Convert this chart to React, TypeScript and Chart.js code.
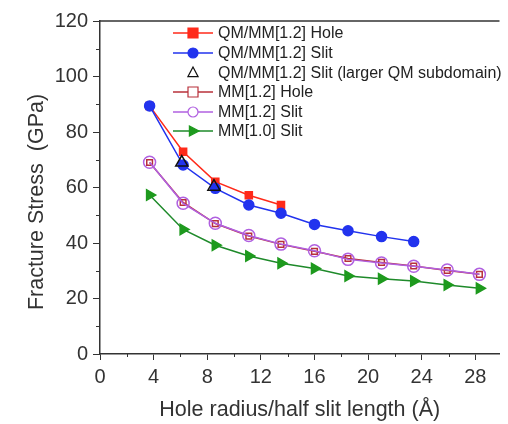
import React, { useEffect, useRef } from "react";
import { Chart, registerables } from "chart.js";
Chart.register(...registerables);

const xSlit = [3.7, 6.2, 8.6, 11.1, 13.5, 16.0, 18.5, 21.0, 23.4, 25.9, 28.3];
const qmHoleX = [3.7, 6.2, 8.6, 11.1, 13.5];
const qmHoleY = [89.4, 72.9, 62.1, 57.2, 53.7];
const qmSlitX = [3.7, 6.2, 8.6, 11.1, 13.5, 16.0, 18.5, 21.0, 23.4];
const qmSlitY = [89.4, 68.1, 59.7, 53.7, 50.7, 46.7, 44.4, 42.3, 40.5];
const qmLargeX = [6.1, 8.5];
const qmLargeY = [69.0, 60.3];
const mmHoleY = [69.0, 54.6, 47.0, 42.5, 39.5, 37.0, 34.4, 33.0, 31.7, 30.1, 28.7];
const mmSlitY = [69.1, 54.3, 47.1, 42.7, 39.6, 37.2, 34.1, 32.8, 31.6, 30.3, 28.7];
const mm10Y = [57.3, 44.9, 39.2, 35.3, 32.7, 30.8, 28.1, 27.1, 26.3, 24.9, 23.7];

const xTitle = "Hole radius/half slit length (Å)";
const yTitle = "Fracture Stress  (GPa)";

const FONT = "'Liberation Sans', Arial, sans-serif";
const AXIS = "#333";

const pts = (xs: number[], ys: number[]) => xs.map((x, i) => ({ x, y: ys[i] }));

const legendItems = [
  { label: "QM/MM[1.2] Hole", line: "#ff2a1a", style: "rect", fill: "#ff2a1a", stroke: "#ff2a1a", r: 5 },
  { label: "QM/MM[1.2] Slit", line: "#2233ee", style: "circle", fill: "#2233ee", stroke: "#2233ee", r: 5 },
  { label: "QM/MM[1.2] Slit (larger QM subdomain)", line: null, style: "triangle", fill: "rgba(0,0,0,0)", stroke: "#111", r: 6 },
  { label: "MM[1.2] Hole", line: "#b8303a", style: "rect", fill: "#fff", stroke: "#b8303a", r: 5 },
  { label: "MM[1.2] Slit", line: "#b060e0", style: "circle", fill: "#fff", stroke: "#b060e0", r: 5 },
  { label: "MM[1.0] Slit", line: "#1e8a2a", style: "triangle", fill: "#1e9a1e", stroke: "#1e9a1e", r: 6, rot: 90 },
];

const customPlugin = {
  id: "custom",
  afterDraw(chart: any) {
    const { ctx, chartArea } = chart;
    const xs = chart.scales.x;
    const ys = chart.scales.y;
    ctx.save();
    // top border
    ctx.strokeStyle = AXIS;
    ctx.lineWidth = 1.5;
    ctx.beginPath();
    ctx.moveTo(chartArea.left, chartArea.top);
    ctx.lineTo(chartArea.right, chartArea.top);
    ctx.stroke();
    // minor ticks
    ctx.lineWidth = 1;
    for (let v = 10; v < 120; v += 20) {
      const y = Math.round(ys.getPixelForValue(v)) + 0.5;
      ctx.beginPath();
      ctx.moveTo(chartArea.left - 4, y);
      ctx.lineTo(chartArea.left, y);
      ctx.stroke();
    }
    for (let v = 2; v < 30; v += 4) {
      const x = Math.round(xs.getPixelForValue(v)) + 0.5;
      ctx.beginPath();
      ctx.moveTo(x, chartArea.bottom);
      ctx.lineTo(x, chartArea.bottom + 3);
      ctx.stroke();
    }
    // y title
    ctx.fillStyle = "#333";
    ctx.font = `21.5px ${FONT}`;
    ctx.textAlign = "center";
    ctx.textBaseline = "middle";
    ctx.translate(37, 202);
    ctx.rotate(-Math.PI / 2);
    ctx.fillText(yTitle, 0, 0);
    ctx.restore();

    // legend
    ctx.save();
    const lx0 = 173, lx1 = 213, cx = 193, tx = 218;
    const rows = [33, 53, 73, 92, 112, 131];
    legendItems.forEach((it: any, i: number) => {
      const y = rows[i];
      if (it.line) {
        ctx.strokeStyle = it.line;
        ctx.lineWidth = 1.5;
        ctx.beginPath();
        ctx.moveTo(lx0, y);
        ctx.lineTo(lx1, y);
        ctx.stroke();
      }
      ctx.fillStyle = it.fill;
      ctx.strokeStyle = it.stroke;
      ctx.lineWidth = 1.2;
      ctx.beginPath();
      if (it.style === "rect") {
        ctx.rect(cx - it.r, y - it.r, it.r * 2, it.r * 2);
      } else if (it.style === "circle") {
        ctx.arc(cx, y, it.r, 0, Math.PI * 2);
      } else {
        const r = it.r;
        if (it.rot) {
          ctx.moveTo(cx + r, y);
          ctx.lineTo(cx - r * 0.6, y - r * 0.85);
          ctx.lineTo(cx - r * 0.6, y + r * 0.85);
        } else {
          ctx.moveTo(cx, y - r);
          ctx.lineTo(cx + r * 0.85, y + r * 0.6);
          ctx.lineTo(cx - r * 0.85, y + r * 0.6);
        }
        ctx.closePath();
      }
      ctx.fill();
      ctx.stroke();
      ctx.fillStyle = "#222";
      ctx.font = `16px ${FONT}`;
      ctx.textAlign = "left";
      ctx.textBaseline = "middle";
      ctx.fillText(it.label, tx, y + 1);
    });
    ctx.restore();
  },
};

export default function App() {
  const ref = useRef<HTMLCanvasElement | null>(null);
  useEffect(() => {
    if (!ref.current) return;
    const chart = new Chart(ref.current, {
      type: "line",
      data: {
        datasets: [
          {
            label: "QM/MM[1.2] Slit (larger QM subdomain)",
            data: pts(qmLargeX, qmLargeY),
            showLine: false,
            pointStyle: "triangle",
            pointRadius: 7,
            borderColor: "#111",
            backgroundColor: "rgba(0,0,0,0)",
            pointBorderWidth: 1.5,
          },
          {
            label: "QM/MM[1.2] Slit",
            data: pts(qmSlitX, qmSlitY),
            borderColor: "#2233ee",
            backgroundColor: "#2233ee",
            pointStyle: "circle",
            pointRadius: 5,
            borderWidth: 1.5,
          },
          {
            label: "QM/MM[1.2] Hole",
            data: pts(qmHoleX, qmHoleY),
            borderColor: "#ff2a1a",
            backgroundColor: "#ff2a1a",
            pointStyle: "rect",
            pointRadius: 5,
            borderWidth: 1.5,
          },
          {
            label: "MM[1.2] Slit",
            data: pts(xSlit, mmSlitY),
            borderColor: "#b060e0",
            backgroundColor: "rgba(255,255,255,0)",
            pointStyle: "circle",
            pointRadius: 6,
            borderWidth: 1.5,
          },
          {
            label: "MM[1.2] Hole",
            data: pts(xSlit, mmHoleY),
            borderColor: "#b8303a",
            backgroundColor: "rgba(255,255,255,0)",
            pointStyle: "rect",
            pointRadius: 4,
            borderWidth: 1.5,
          },
          {
            label: "MM[1.0] Slit",
            data: pts(xSlit, mm10Y),
            borderColor: "#1e8a2a",
            backgroundColor: "#1e9a1e",
            pointBorderColor: "#1e9a1e",
            pointStyle: "triangle",
            pointRotation: 90,
            pointRadius: 6,
            borderWidth: 1.5,
          },
        ],
      },
      options: {
        responsive: false,
        animation: false,
        layout: { padding: { top: 21, right: 0, left: 0, bottom: 0 } },
        plugins: { legend: { display: false }, tooltip: { enabled: false } },
        elements: { line: { tension: 0 } },
        scales: {
          x: {
            type: "linear",
            min: 0,
            max: 29.8,
            afterFit: (s: any) => { s.height = 70; },
            ticks: { stepSize: 4, includeBounds: false, color: "#333", padding: 5, maxRotation: 0, font: { size: 20, family: FONT } },
            grid: { display: true, drawOnChartArea: false, drawTicks: true, tickLength: 6, color: AXIS, lineWidth: 1 },
            border: { display: true, color: AXIS, width: 1.5 },
            title: { display: true, text: xTitle, color: "#333", font: { size: 21.5, family: FONT }, padding: { top: 0, bottom: 1 } },
          },
          y: {
            type: "linear",
            min: 0,
            max: 120,
            afterFit: (s: any) => { s.width = 100; },
            ticks: { stepSize: 20, color: "#333", padding: 5, font: { size: 20, family: FONT } },
            grid: { display: true, drawOnChartArea: false, drawTicks: true, tickLength: 7, color: AXIS, lineWidth: 1 },
            border: { display: true, color: AXIS, width: 1.5 },
          },
        },
      },
      plugins: [customPlugin],
    } as any);
    return () => chart.destroy();
  }, []);
  return (
    <div style={{ position: "fixed", left: 0, top: 0, width: 508, height: 424, background: "#fff" }}>
      <canvas ref={ref} width={508} height={424} style={{ display: "block" }} />
    </div>
  );
}
